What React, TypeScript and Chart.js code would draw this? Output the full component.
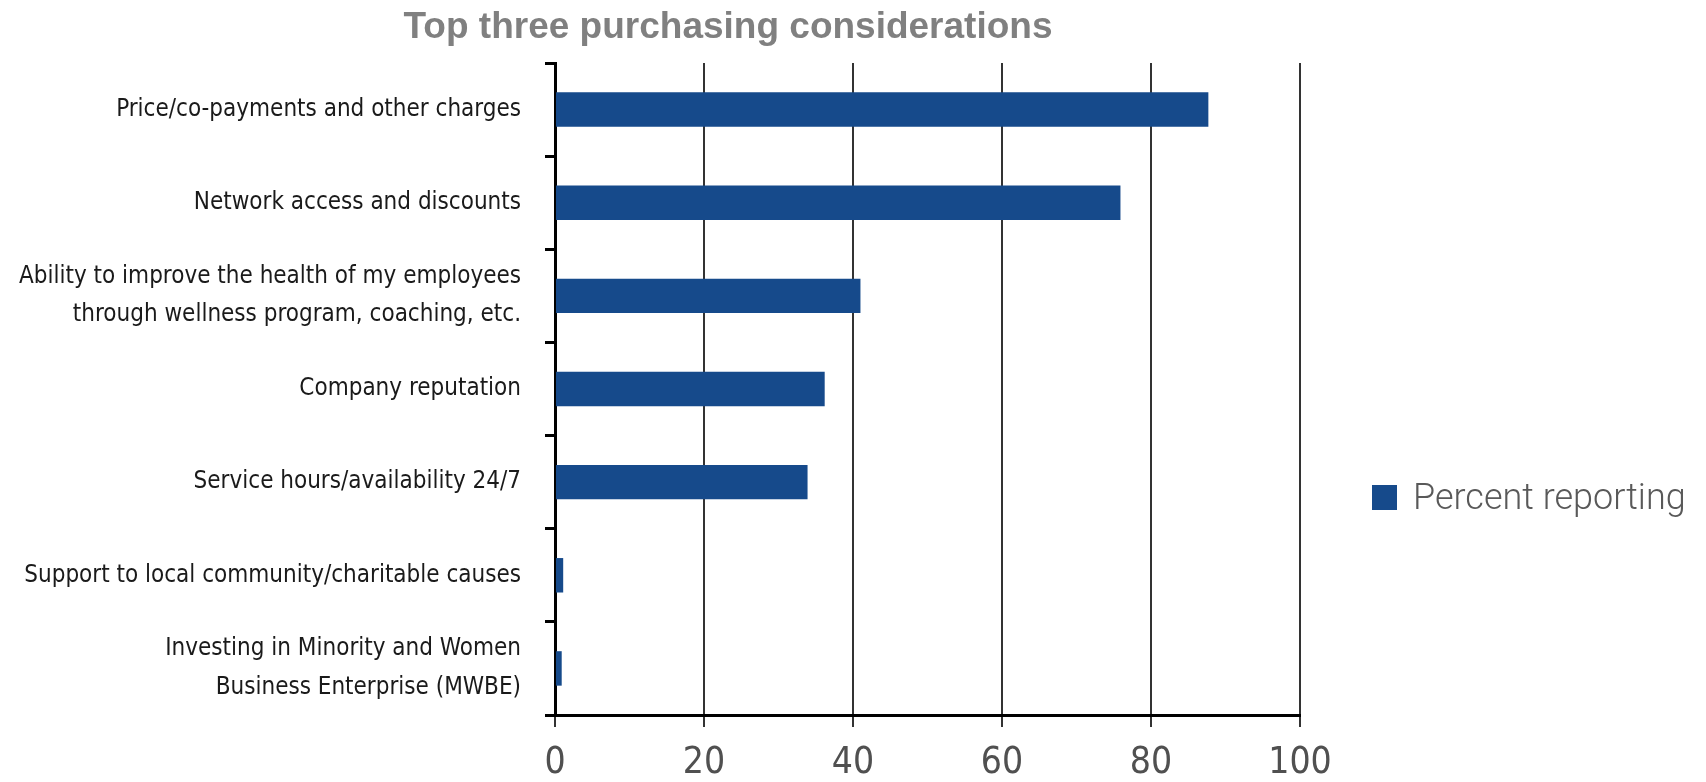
import React, { useEffect, useRef } from 'react';
import { Chart, registerables } from 'chart.js';

Chart.register(...registerables);

const TITLE = 'Top three purchasing considerations';
const SERIES_LABEL = 'Percent reporting';

const categories: (string | string[])[] = [
  'Price/co-payments and other charges',
  'Network access and discounts',
  ['Ability to improve the health of my employees', 'through wellness program, coaching, etc.'],
  'Company reputation',
  'Service hours/availability 24/7',
  'Support to local community/charitable causes',
  ['Investing in Minority and Women', 'Business Enterprise (MWBE)'],
];

const percentReporting = [87.7, 75.9, 41, 36.2, 33.9, 1.1, 0.9];

const xMin = 0;
const xMax = 100;
const xStep = 20;

const BAR_COLOR = '#164a8b';
const NARROW = '"Liberation Sans Narrow", "DejaVu Sans Condensed", "Arial Narrow", "Liberation Sans", sans-serif';

const W = 1706;
const H = 782;
const PLOT_TOP = 63;
const PLOT_BOTTOM = 715;
const PLOT_LEFT = 555;
const PLOT_RIGHT = 1300;

const overlayPlugin = {
  id: 'overlay',
  afterDraw(chart: any) {
    const ctx = chart.ctx as CanvasRenderingContext2D;
    ctx.save();
    // title
    ctx.fillStyle = '#808080';
    ctx.font = 'bold 37px "Liberation Sans", Arial, sans-serif';
    ctx.textAlign = 'center';
    ctx.textBaseline = 'alphabetic';
    ctx.fillText(TITLE, 728, 38);
    // legend
    const ds = chart.data.datasets[0];
    ctx.fillStyle = ds.backgroundColor;
    ctx.fillRect(1372, 485, 25, 25);
    ctx.fillStyle = '#595959';
    ctx.font = '300 36px Roboto, "Open Sans", sans-serif';
    ctx.textAlign = 'left';
    ctx.fillText(ds.label, 1413, 509);
    ctx.restore();
  },
};

export default function App() {
  const ref = useRef<HTMLCanvasElement | null>(null);

  useEffect(() => {
    if (!ref.current) return;
    const chart = new Chart(ref.current, {
      type: 'bar',
      data: {
        labels: categories as any,
        datasets: [
          {
            label: SERIES_LABEL,
            data: percentReporting,
            backgroundColor: BAR_COLOR,
            borderWidth: 0,
            barPercentage: 0.37,
            categoryPercentage: 1,
          },
        ],
      },
      options: {
        indexAxis: 'y',
        animation: false,
        responsive: false,
        devicePixelRatio: 1,
        layout: { padding: { top: PLOT_TOP, right: W - PLOT_RIGHT, left: 0, bottom: 0 } },
        plugins: {
          legend: { display: false },
          title: { display: false },
          tooltip: { enabled: false },
        },
        scales: {
          x: {
            type: 'linear',
            min: xMin,
            max: xMax,
            ticks: {
              stepSize: xStep,
              color: '#505050',
              font: { family: NARROW, size: 37 },
              padding: 14,
            },
            grid: {
              color: '#333',
              lineWidth: 2,
              tickLength: 12,
              tickColor: '#333',
              drawTicks: true,
            },
            border: { display: true, color: '#000', width: 3 },
            afterFit(scale: any) {
              scale.height = H - PLOT_BOTTOM;
            },
          },
          y: {
            type: 'category',
            ticks: {
              color: '#1a1a1a',
              font: { family: NARROW, size: 24, lineHeight: 1.6 },
              padding: 24,
            },
            grid: {
              display: true,
              drawOnChartArea: false,
              drawTicks: true,
              tickLength: 10,
              tickWidth: 3,
              tickColor: '#000',
              offset: true,
            },
            border: { display: true, color: '#000', width: 3 },
            afterFit(scale: any) {
              scale.width = PLOT_LEFT;
            },
          },
        },
      } as any,
      plugins: [overlayPlugin],
    });
    return () => chart.destroy();
  }, []);

  return (
    <div style={{ position: 'fixed', left: 0, top: 0, width: W, height: H, background: '#fff' }}>
      <canvas ref={ref} width={W} height={H} style={{ width: W, height: H, display: 'block' }} />
    </div>
  );
}
